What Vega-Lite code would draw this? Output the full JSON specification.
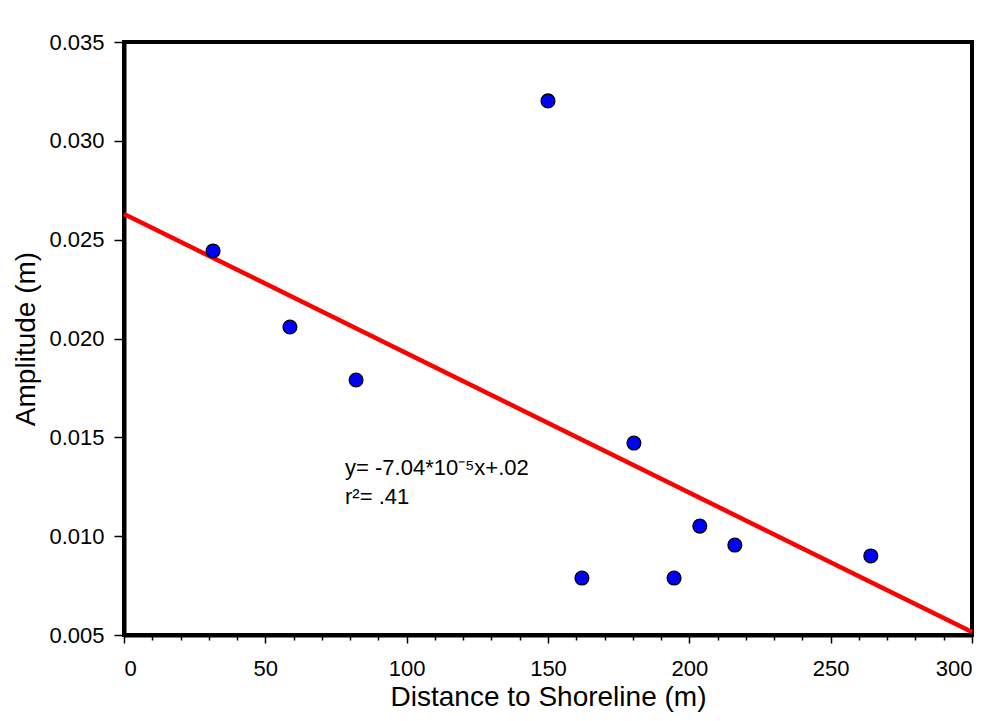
{
  "$schema": "https://vega.github.io/schema/vega-lite/v6.json",
  "autosize": "none",
  "width": 848,
  "height": 593,
  "padding": {"left": 124, "top": 42, "right": 28, "bottom": 86},
  "background": "white",
  "config": {
    "font": "Liberation Sans",
    "view": {"stroke": "black", "strokeWidth": 4},
    "axis": {
      "domainColor": "black", "domainWidth": 4, "tickColor": "black", "tickWidth": 1.5,
      "labelColor": "black", "titleColor": "black", "grid": false,
      "labelFont": "Liberation Sans", "titleFont": "Liberation Sans",
      "labelFontSize": 22, "titleFontSize": 28, "titleFontWeight": "normal"
    }
  },
  "datasets": {
    "points": [
      {"distance": 31.5, "amplitude": 0.02443},
      {"distance": 58.7, "amplitude": 0.02058},
      {"distance": 82.1, "amplitude": 0.0179},
      {"distance": 150.0, "amplitude": 0.03202},
      {"distance": 180.4, "amplitude": 0.01471},
      {"distance": 162.0, "amplitude": 0.00788},
      {"distance": 194.6, "amplitude": 0.00788},
      {"distance": 203.7, "amplitude": 0.01051},
      {"distance": 216.1, "amplitude": 0.00955},
      {"distance": 264.2, "amplitude": 0.009}
    ],
    "fit": [
      {"distance": 0, "amplitude": 0.0263},
      {"distance": 300, "amplitude": 0.00515}
    ],
    "note": [
      {"distance": 78.2, "amplitude": 0.0131, "label": "y= -7.04*10⁻⁵x+.02"},
      {"distance": 78.2, "amplitude": 0.01163, "label": "r²= .41"}
    ]
  },
  "resolve": {"axis": {"x": "independent"}},
  "layer": [
    {
      "data": {"name": "fit"},
      "mark": {"type": "line", "color": "#ff0000", "strokeWidth": 4.5},
      "encoding": {
        "x": {"field": "distance", "type": "quantitative",
              "scale": {"domain": [0, 300], "nice": false, "zero": false},
              "axis": {"orient": "bottom", "values": [10,20,30,40,60,70,80,90,110,120,130,140,160,170,180,190,210,220,230,240,260,270,280,290],
                       "labels": false, "domain": false, "tickSize": 5, "title": null}},
        "y": {"field": "amplitude", "type": "quantitative",
              "scale": {"domain": [0.005, 0.035], "nice": false, "zero": false},
              "axis": {"values": [0.005,0.01,0.015,0.02,0.025,0.03,0.035], "format": ".3f",
                       "tickSize": 10, "labelPadding": 10, "title": "Amplitude (m)", "titlePadding": 8}}
      }
    },
    {
      "data": {"name": "points"},
      "mark": {"type": "point", "filled": true, "fill": "#0000ff", "stroke": "black", "strokeWidth": 1.3, "size": 190, "opacity": 1},
      "encoding": {
        "x": {"field": "distance", "type": "quantitative",
              "axis": {"orient": "bottom", "values": [0,50,100,150,200,250,300], "tickSize": 8, "labelPadding": 15,
                       "title": "Distance to Shoreline (m)", "titlePadding": 4}},
        "y": {"field": "amplitude", "type": "quantitative"}
      }
    },
    {
      "data": {"name": "note"},
      "mark": {"type": "text", "align": "left", "baseline": "alphabetic", "fontSize": 22, "font": "Liberation Sans", "color": "black"},
      "encoding": {
        "x": {"field": "distance", "type": "quantitative", "axis": null},
        "y": {"field": "amplitude", "type": "quantitative"},
        "text": {"field": "label"}
      }
    }
  ]
}
